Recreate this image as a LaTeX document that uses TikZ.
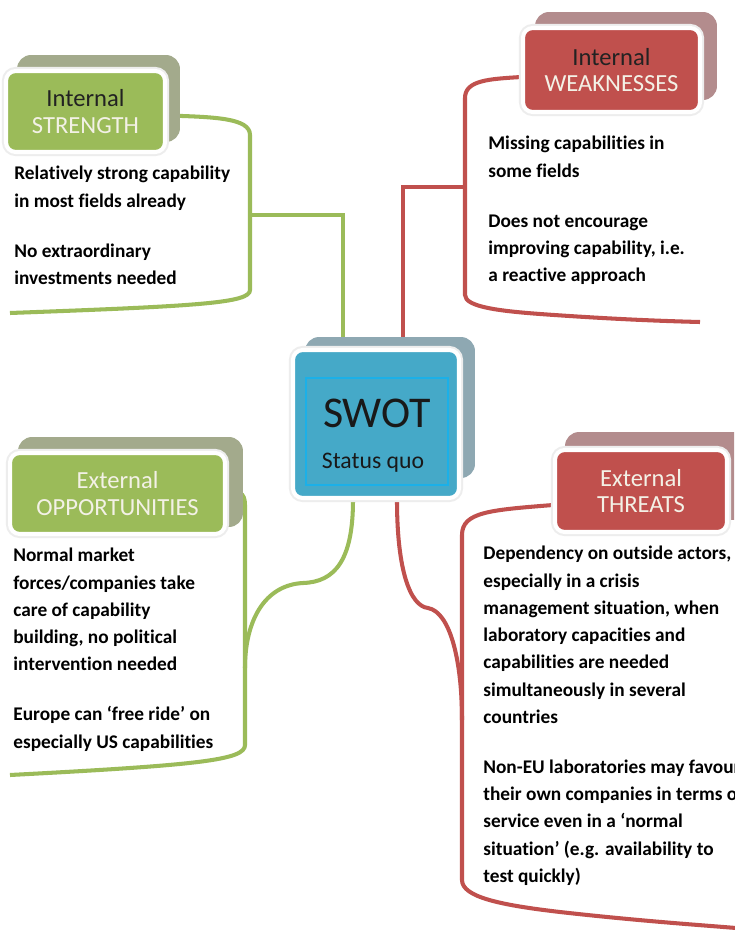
\documentclass[tikz,border=0pt]{standalone}
\usepackage{fontspec}
\setmainfont{Carlito}[Ligatures={NoCommon}]
\usetikzlibrary{backgrounds}
\definecolor{gfront}{HTML}{9BBB59}
\definecolor{gback}{HTML}{A3AA8C}
\definecolor{rfront}{HTML}{C0504D}
\definecolor{rback}{HTML}{B38C8D}
\definecolor{bfront}{HTML}{45A9C8}
\definecolor{bback}{HTML}{8EA8B2}
\definecolor{binner}{HTML}{1BB0E8}
\definecolor{titledark}{HTML}{222222}
\definecolor{titlelight}{HTML}{F3F1E6}
\tikzset{
  frontbox/.style={rounded corners=5.5pt, draw=white, line width=2.3pt,
    preaction={draw=black!7, line width=4.6pt}, inner sep=0pt, align=center,
    font=\fontsize{14}{15}\selectfont},
  backbox/.style={rounded corners=8pt, inner sep=0pt},
  gline/.style={draw=gfront, line width=2.3pt},
  rline/.style={draw=rfront, line width=2.3pt},
  bodytext/.style={font=\fontsize{11}{15.5}\selectfont\bfseries, align=left,
    anchor=north west, inner sep=0pt, text=black},
}
\begin{document}
\begin{tikzpicture}[x=0.02cm,y=-0.02cm]
\clip (0,0) rectangle (734,930);

% ---------- shadow boxes ----------
\node[backbox, fill=gback, minimum width=3.26cm, minimum height=1.74cm] (sback) at (98.5,98.5) {};
\node[backbox, fill=rback, minimum width=3.64cm, minimum height=1.76cm] (wback) at (626,56) {};
\node[backbox, fill=bback, minimum width=3.4cm, minimum height=2.82cm] (swotback) at (390,407.5) {};
\node[backbox, fill=gback, minimum width=4.5cm, minimum height=1.8cm] (oback) at (130.5,482) {};
\node[backbox, fill=rback, minimum width=3.66cm, minimum height=1.76cm] (tback) at (656.5,476) {};

% ---------- front boxes ----------
\node[frontbox, fill=gfront, minimum width=3.18cm, minimum height=1.62cm] (sfront) at (85.5,111.5)
  {\textcolor{titledark}{Internal}\\\textcolor{titlelight}{STRENGTH}};
\node[frontbox, fill=rfront, minimum width=3.54cm, minimum height=1.68cm] (wfront) at (611.5,70)
  {\textcolor{titledark}{Internal}\\\textcolor{titlelight}{WEAKNESSES}};
\node[frontbox, fill=bfront, minimum width=3.32cm, minimum height=2.96cm] (swotfront) at (376,424) {};
\node[draw=binner, line width=0.6pt, inner sep=0pt, minimum width=2.84cm, minimum height=2.14cm] (swotin) at (377,431.5) {};
\node[inner sep=0pt, font=\fontsize{25}{27}\selectfont, text=black!90] (swotttl) at (377,413) {SWOT};
\node[inner sep=0pt, font=\fontsize{13.5}{15}\selectfont, text=black!90] (swotsub) at (373,463) {Status quo};
\node[frontbox, fill=gfront, minimum width=4.3cm, minimum height=1.62cm] (ofront) at (117.5,493.5)
  {\textcolor{titlelight}{External}\\\textcolor{titlelight}{OPPORTUNITIES}};
\node[frontbox, fill=rfront, minimum width=3.44cm, minimum height=1.64cm] (tfront) at (641,491)
  {\textcolor{titlelight}{External}\\\textcolor{titlelight}{THREATS}};

% ---------- body texts ----------
\node[bodytext] (stxt) at (14,166)
  {Relatively strong capability\\in most fields already\\[13pt]No extraordinary\\investments needed};
\node[bodytext] (wtxt) at (488,136)
  {Missing capabilities in\\some fields\\[13pt]Does not encourage\\improving capability, i.e.\\a reactive approach};
\node[bodytext] (otxt) at (13,548)
  {Normal market\\forces/companies take\\care of capability\\building, no political\\intervention needed\\[13pt]Europe can ‘free ride’ on\\especially US capabilities};
\node[bodytext] (ttxt) at (483,546)
  {Dependency on outside actors,\\especially in a crisis\\management situation, when\\laboratory capacities and\\capabilities are needed\\simultaneously in several\\countries\\[13pt]Non-EU laboratories may favour\\their own companies in terms of\\service even in a ‘normal\\situation’ (e.g. availability to\\test quickly)};

% ---------- connectors ----------
\coordinate (sBot) at (10,313);
\coordinate (sJ) at (250,215);
\coordinate (wBot) at (700,322);
\coordinate (wJ) at (465,187);
\coordinate (oBot) at (10,775);
\coordinate (oJ) at (245,668);
\coordinate (tBot) at (736,928);
\coordinate (tJ) at (462,720);
\begin{scope}[on background layer]
\fill[white] (0,0) rectangle (734,930);
\draw[gline] ([yshift=-0.08cm]sfront.east) .. controls (215,117) and (250,118) .. (250,135)
  -- (250,290) .. controls (250,303) and (200,306) .. (sBot);
\draw[gline] (sJ) -| ([xshift=-0.94cm]swotback.north);
\draw[rline] ([yshift=-0.14cm]wfront.west) .. controls (490,79) and (465,80) .. (465,98)
  -- (465,295) .. controls (465,307) and (500,311) .. (540,314) .. controls (610,319) and (660,321) .. (wBot);
\draw[rline] (wJ) -| ([xshift=0.26cm]swotback.north);
\draw[gline] (ofront.east) .. controls (238,490) and (245,492) .. (245,505)
  -- (245,745) .. controls (245,760) and (200,765) .. (oBot);
\draw[gline] ([xshift=-0.46cm]swotfront.south) .. controls (353,560) and (335,582) .. (303,583)
  .. controls (265,585) and (245,620) .. (oJ);
\draw[rline] ([yshift=-0.28cm]tfront.west) .. controls (490,510) and (462,512) .. (462,535)
  -- (462,880) .. controls (462,897) and (500,905) .. (560,912) .. controls (640,921) and (700,925) .. (tBot);
\draw[rline] ([xshift=0.42cm]swotfront.south) .. controls (397,570) and (410,606) .. (428,608)
  .. controls (450,612) and (462,660) .. (tJ);
\end{scope}
\end{tikzpicture}
\end{document}
